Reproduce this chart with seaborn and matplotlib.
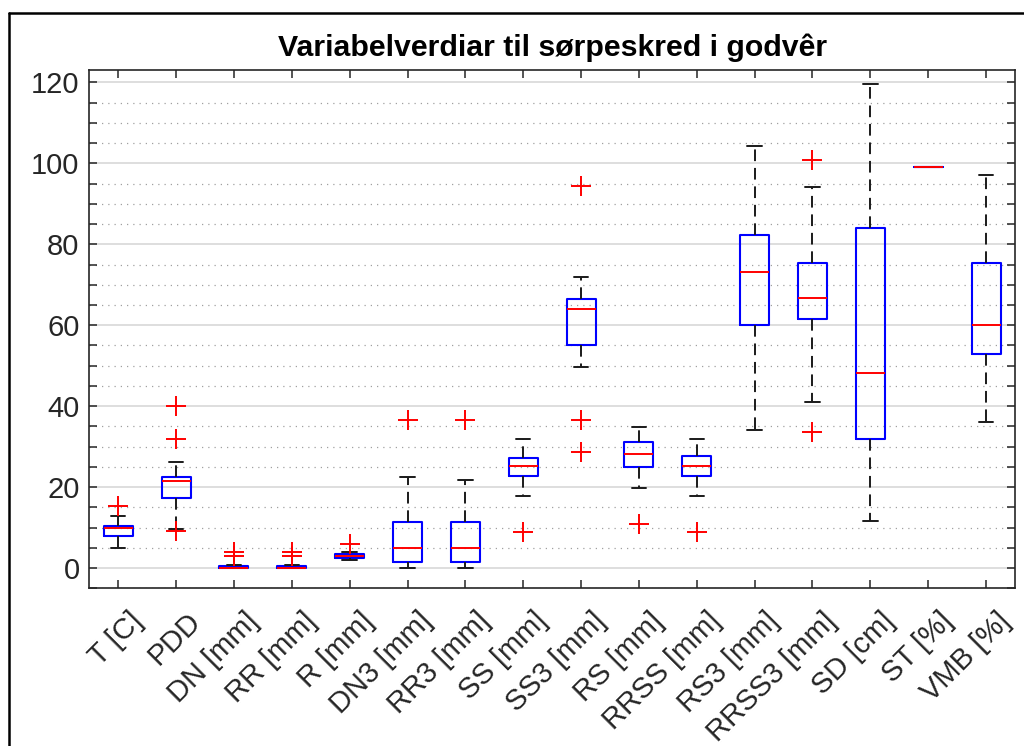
import numpy as np
import pandas as pd
import matplotlib
matplotlib.use("Agg")
import matplotlib.pyplot as plt
import matplotlib.transforms as mtransforms
from matplotlib.lines import Line2D
from matplotlib.ticker import MultipleLocator
import seaborn as sns

# ---- data ----
categories = ["T [C]", "PDD", "DN [mm]", "RR [mm]", "R [mm]", "DN3 [mm]", "RR3 [mm]",
              "SS [mm]", "SS3 [mm]", "RS [mm]", "RRSS [mm]", "RS3 [mm]", "RRSS3 [mm]",
              "SD [cm]", "ST [%]", "VMB [%]"]

T_C = [4.9, 7.0, 7.8, 9.0, 9.8, 10.2, 10.5, 12.8, 15.3]
PDD = [9.05, 9.7, 15.0, 17.2, 18.0, 20.0, 21.4, 22.0, 22.2, 22.5, 26.3, 31.9, 40.1]
DN = [0, 0, 0, 0, 0, 0, 0, 0.2, 0.3, 0.4, 0.8, 3.0, 4.0]
RR = [0, 0, 0, 0, 0, 0, 0, 0.2, 0.3, 0.4, 0.8, 3.0, 4.0]
R = [1.9, 2.3, 2.6, 2.8, 3.0, 3.2, 3.5, 4.0, 6.0]
DN3 = [0, 1.0, 1.5, 3.0, 4.9, 8.0, 11.3, 22.4, 36.7]
RR3 = [0, 1.0, 1.5, 3.0, 4.9, 8.0, 11.3, 21.8, 36.7]
SS = [9.0, 17.9, 22.7, 24.0, 25.1, 26.0, 27.3, 29.0, 31.9]
SS3 = [28.8, 36.7, 49.8, 55.1, 58.0, 62.0, 64.1, 64.8, 65.5, 66.4, 68.0, 72.0, 94.5]
RS = [10.9, 19.8, 25.0, 27.0, 28.2, 30.0, 31.1, 33.0, 34.8]
RRSS = [9.0, 17.9, 22.8, 24.0, 25.1, 26.0, 27.7, 29.0, 31.9]
RS3 = [34.1, 50.0, 60.0, 68.0, 73.1, 78.0, 82.2, 95.0, 104.3]
RRSS3 = [33.7, 41.0, 61.6, 64.0, 66.8, 71.0, 75.4, 94.1, 100.9]
SD = [11.6, 25.0, 31.8, 40.0, 48.3, 65.0, 84.0, 100.0, 119.7]
ST = [99, 99, 99, 99, 99, 99, 99, 99, 99]
VMB = [36.0, 45.0, 52.9, 57.0, 60.0, 68.0, 75.4, 85.0, 97.1]

series = [T_C, PDD, DN, RR, R, DN3, RR3, SS, SS3, RS, RRSS, RS3, RRSS3, SD, ST, VMB]
title = "Variabelverdiar til sørpeskred i godvêr"

rows = []
for cat, vals in zip(categories, series):
    for v in vals:
        rows.append((cat, v))
df = pd.DataFrame(rows, columns=["variabel", "verdi"])

# ---- style ----
sns.set_theme(style="white")
plt.rcParams["font.family"] = ["Liberation Sans", "DejaVu Sans"]

fig = plt.figure(figsize=(10.24, 7.46), dpi=100)
ax = fig.add_axes([0.0872, 0.2114, 0.904, 0.6944])

sns.boxplot(data=df, x="variabel", y="verdi", order=categories, ax=ax,
            fill=False, width=0.5, whis=1.5,
            boxprops=dict(color="#0000ff", linewidth=1.5),
            medianprops=dict(color="#ff0000", linewidth=1.4),
            whiskerprops=dict(color="#1a1a1a", linewidth=1.4, linestyle=(0, (6, 3.5))),
            capprops=dict(color="#1a1a1a", linewidth=1.4),
            flierprops=dict(marker="+", markeredgecolor="#ff0000", markersize=14,
                            markeredgewidth=1.4))

ax.set_xlim(-0.5, len(categories) - 0.5)
ax.set_ylim(-5, 123)
ax.set_xlabel("")
ax.set_ylabel("")
ax.yaxis.set_major_locator(MultipleLocator(20))
ax.yaxis.set_minor_locator(MultipleLocator(5))
ax.set_axisbelow(True)
ax.grid(False)
ax.yaxis.grid(True, which="major", color="#dedede", linewidth=1.4, linestyle="-")
ax.yaxis.grid(True, which="minor", color="#a0a0a0", linewidth=0.9, linestyle=(0, (1, 4)))

for sp in ax.spines.values():
    sp.set_visible(True)
    sp.set_color("#262626")
    sp.set_linewidth(1.2)

ax.tick_params(axis="both", which="both", direction="in", length=6, width=1.1,
               color="#262626", labelcolor="#262626", labelsize=21,
               top=True, right=True, bottom=True, left=True)
ax.tick_params(axis="x", which="minor", bottom=False, top=False)
ax.tick_params(axis="y", which="major", pad=7)
ax.tick_params(axis="x", which="major", pad=14)

ax.set_xticks(range(len(categories)))
ax.set_xticklabels(categories, rotation=45, ha="right", va="center",
                   rotation_mode="anchor")
offset = mtransforms.ScaledTranslation(20 / 100, -9 / 100, fig.dpi_scale_trans)
for lab in ax.get_xticklabels():
    lab.set_transform(lab.get_transform() + offset)

ax.set_title(title, fontsize=21.8, fontweight="bold", color="black", pad=10)

# figure frame (screenshot border)
fig.add_artist(Line2D([9 / 1024, 9 / 1024], [0, 1 - 13 / 746], color="black",
                      linewidth=1.8, transform=fig.transFigure))
fig.add_artist(Line2D([9 / 1024, 1], [1 - 13 / 746, 1 - 13 / 746], color="black",
                      linewidth=1.8, transform=fig.transFigure))

fig.savefig("out.png", dpi=100, facecolor="white")
